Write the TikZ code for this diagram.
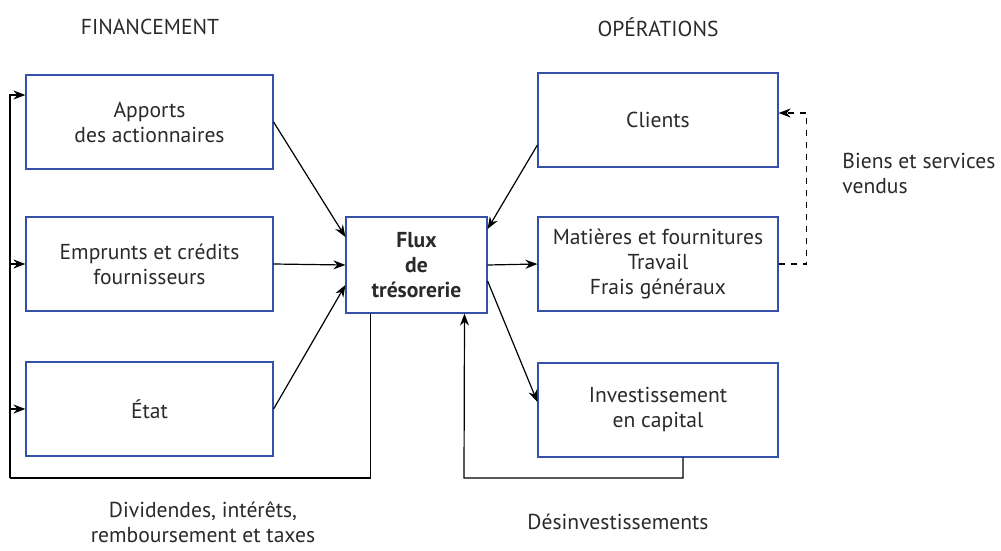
\documentclass[tikz,border=0pt]{standalone}
\usepackage{fontspec}
\setmainfont{PT Sans}
\usetikzlibrary{arrows.meta,
                positioning}
\definecolor{boxblue}{HTML}{3450A8}
\definecolor{inkgray}{HTML}{2A2A2A}
\tikzset{flowbox/.style =
   {rectangle,
    draw=boxblue,
    line width=0.6pt,
    text=inkgray,
    align=center,
    minimum width=123.5pt,
    minimum height=47pt,
    inner sep=2pt}}
\tikzset{arrow/.style = {draw, line width=0.6pt, -{Stealth[length=6pt,width=4.5pt]}}}
\tikzset{caption/.style = {text=inkgray, align=center, inner sep=0pt}}

\begin{document}
\begin{tikzpicture}[x=0.5pt, y=-0.5pt, font=\fontsize{10.8}{12.5}\selectfont]

    \useasboundingbox (0,0) rectangle (1001,551);

    % financement
    \node [flowbox] (apports)  at (149.5,122) {Apports\\des actionnaires};
    \node [flowbox] (emprunts) at (149.5,264) {Emprunts et crédits\\fournisseurs};
    \node [flowbox] (etat)     at (149.5,409) {État};

    % tresorerie
    \node [flowbox, minimum width=70.5pt, minimum height=48pt, font=\fontsize{10.8}{12.5}\selectfont\bfseries]
      (flux) at (416.5,265) {Flux\\de\\trésorerie};

    % operations
    \node [flowbox, minimum width=120pt] (clients)  at (658,120) {Clients};
    \node [flowbox, minimum width=120pt] (matieres) at (658,264)
      {Matières et fournitures\\Travail\\Frais généraux};
    \node [flowbox, minimum width=120pt] (invest)   at (658,410) {Investissement\\en capital};

    \node [caption] (fin) at (150,27) {FINANCEMENT};
    \node [caption] (ops) at (658,27) {OPÉRATIONS};
    \node [caption, anchor=west, align=left] (biens) at (842,173) {Biens et services\\vendus};
    \node [caption] (divid) at (203,522) {Dividendes, intérêts,\\remboursement et taxes};
    \node [caption] (desinvlab) at (618,522) {Désinvestissements};

    \coordinate (loop)   at (10,478);
    \coordinate (desinv) at (464,478);

    \path [arrow] (apports.east) -- ([yshift=14pt]flux.west);
    \path [arrow] (emprunts.east) -- (flux.west);
    \path [arrow] (etat.east) -- ([yshift=-10pt]flux.west);

    \path [arrow] ([yshift=-12.5pt]clients.west) -- ([yshift=18pt]flux.east);
    \path [arrow] (flux.east) -- (matieres.west);
    \path [arrow] ([yshift=-8pt]flux.east) -- ([yshift=4pt]invest.west);

    \path [arrow, dashed] (matieres.east) -- ++(14pt,0) |- ([yshift=3.5pt]clients.east);

    % retour vers le financement
    \draw [line width=0.6pt] ([xshift=-23pt]flux.south) |- (loop);
    \path [arrow] (loop) |- ([yshift=13.5pt]apports.west);
    \path [arrow] (loop) |- (emprunts.west);
    \path [arrow] (loop) |- (etat.west);

    \path [arrow] ([xshift=12.5pt]invest.south) |- (desinv) -- ([xshift=24pt]flux.south);

\end{tikzpicture}
\end{document}
